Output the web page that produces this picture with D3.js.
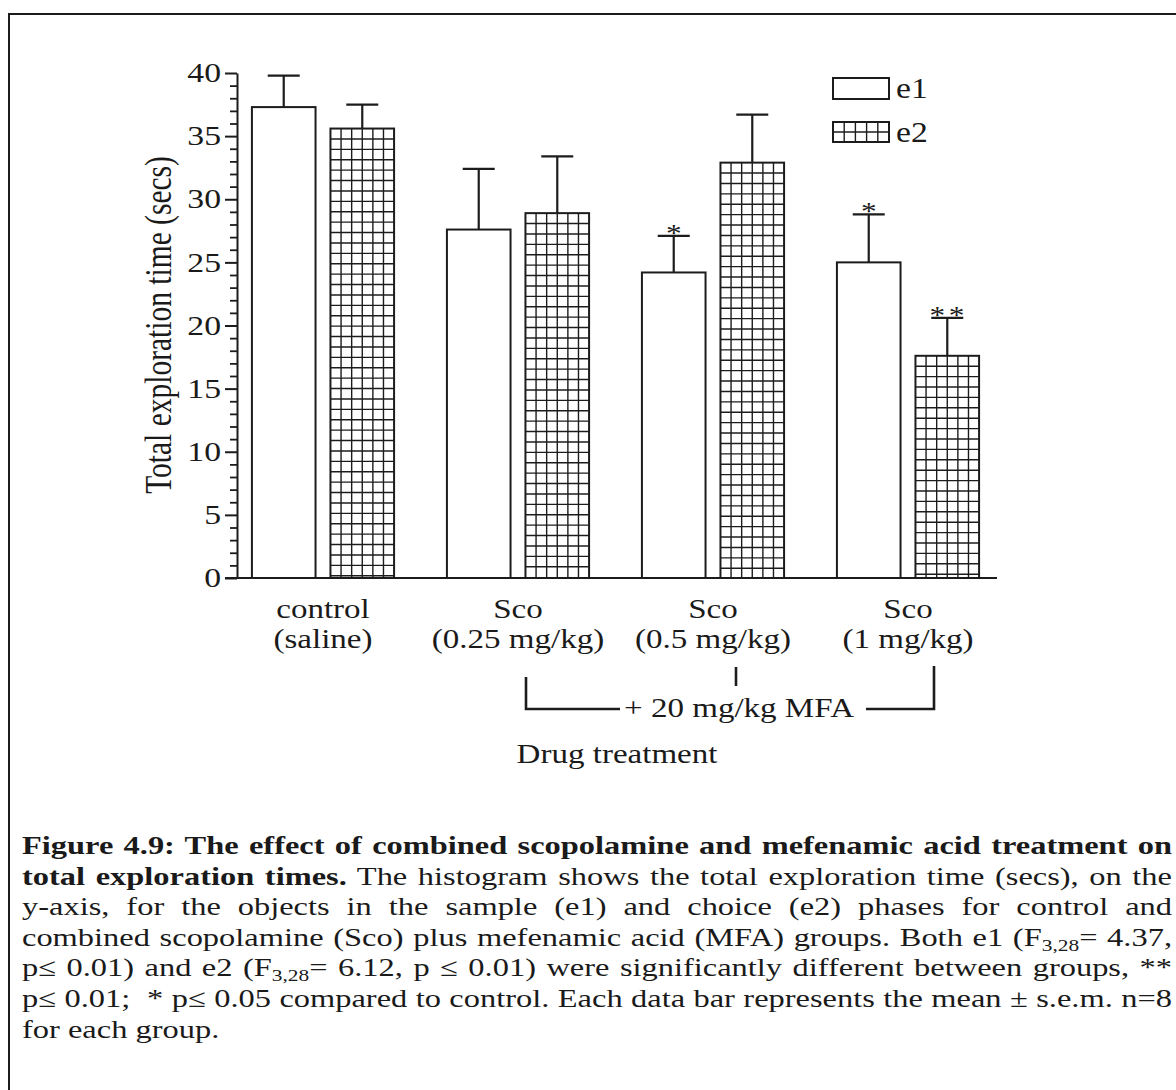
<!DOCTYPE html>
<html>
<head>
<meta charset="utf-8">
<script src="https://cdn.jsdelivr.net/npm/d3@7"></script>
<style>
  html, body { margin: 0; padding: 0; background: #fff; }
  svg { display: block; }
  text { font-family: "Liberation Serif", "Times New Roman", serif; fill: #1a1a1a; }
</style>
</head>
<body>
<svg id="fig" width="1176" height="1090"></svg>
<script>
// ---- data ----
const groupLine1 = ["control", "Sco", "Sco", "Sco"];
const groupLine2 = ["(saline)", "(0.25 mg/kg)", "(0.5 mg/kg)", "(1 mg/kg)"];
const phases = ["e1", "e2"];
const e1Mean = [37.3, 27.6, 24.2, 25.0];
const e1Sem  = [2.5, 4.8, 2.9, 3.8];
const e2Mean = [35.6, 28.9, 32.9, 17.6];
const e2Sem  = [1.9, 4.5, 3.8, 3.0];
const e1Sig  = ["", "", "*", "*"];
const e2Sig  = ["", "", "", "**"];
const yTicks = [0, 5, 10, 15, 20, 25, 30, 35, 40];
const yMinorTicks = d3.range(0, 41).filter(d => d % 5 !== 0);
const yTitle = "Total exploration time (secs)";
const xTitle = "Drug treatment";
const bracketLabel = "+ 20 mg/kg MFA";

// ---- styling / layout ----
const SX = 1.25;          // lettering is set slightly wide
const SXL = 1.18;         // category / legend lettering
const ink = "#1c1c1c";
const svg = d3.select("#fig");

const y = d3.scaleLinear().domain([0, 40]).range([578, 73]);
const x0 = d3.scaleBand().domain(d3.range(groupLine1.length))
  .range([225.4, 1005.6]).paddingInner(0.271).paddingOuter(0.136);
const x1 = d3.scaleBand().domain(phases).range([0, x0.bandwidth()]).paddingInner(0.19);
const axisX = 237, axisEnd = 997;

function wideText(parent, x, yy, str, size, anchor, sx) {
  return parent.append("text")
    .attr("transform", `translate(${x},${yy}) scale(${sx || SX},1)`)
    .attr("text-anchor", anchor || "start")
    .style("font-size", size + "px")
    .text(str);
}

// frame
svg.append("path").attr("d", "M9,1090V14H1176")
  .attr("fill", "none").attr("stroke", ink).attr("stroke-width", 2);

// ---- bars ----
const rows = [];
groupLine1.forEach((g, i) => {
  rows.push({ i, p: "e1", mean: e1Mean[i], sem: e1Sem[i], sig: e1Sig[i] });
  rows.push({ i, p: "e2", mean: e2Mean[i], sem: e2Sem[i], sig: e2Sig[i] });
});

const plot = svg.append("g");
const bw = x1.bandwidth();

const barG = plot.selectAll("g.bar").data(rows).join("g").attr("class", "bar");
barG.each(function (d) {
  const g = d3.select(this);
  const bx = x0(d.i) + x1(d.p);
  const top = y(d.mean), base = y(0);
  const cx = bx + bw / 2;
  // error bar (drawn first so the bar outline sits on it)
  const et = y(d.mean + d.sem);
  g.append("line").attr("x1", cx).attr("x2", cx).attr("y1", top).attr("y2", et)
    .attr("stroke", ink).attr("stroke-width", 2.2);
  g.append("line").attr("x1", cx - 16).attr("x2", cx + 16).attr("y1", et).attr("y2", et)
    .attr("stroke", ink).attr("stroke-width", 2.2);
  g.append("rect").attr("x", bx).attr("y", top).attr("width", bw).attr("height", base - top)
    .attr("fill", "#fff");
  if (d.p === "e2") {
    const hatch = g.append("g").attr("stroke", ink).attr("stroke-width", 1.4);
    for (let k = 1; k < 6; k++) {
      const lx = bx + k * bw / 6;
      hatch.append("line").attr("x1", lx).attr("x2", lx).attr("y1", top).attr("y2", base);
    }
    for (let ly = top + 10.4; ly < base - 2; ly += 10.4) {
      hatch.append("line").attr("x1", bx).attr("x2", bx + bw).attr("y1", ly).attr("y2", ly);
    }
  }
  g.append("rect").attr("x", bx).attr("y", top).attr("width", bw).attr("height", base - top)
    .attr("fill", "none").attr("stroke", ink).attr("stroke-width", 2);
  if (d.sig) {
    wideText(g, cx + (d.sig.length - 1) * 1.5, et + 6, d.sig, 25, "middle")
      .style("letter-spacing", (d.sig.length > 1 ? 3 : 0) + "px");
  }
});

// ---- axes ----
const yAxis = d3.axisLeft(y).tickValues(yTicks).tickSize(12).tickSizeOuter(0)
  .tickPadding(5).tickFormat(d3.format("d"));
const yg = svg.append("g").attr("transform", `translate(${axisX},0)`).call(yAxis);
yg.select(".domain").attr("stroke", ink).attr("stroke-width", 2);
yg.selectAll(".tick line").attr("stroke", ink).attr("stroke-width", 2);
yg.selectAll(".tick text")
  .attr("fill", ink)
  .style("font-family", "'Liberation Serif', serif")
  .style("font-size", "27px")
  .attr("x", -16 / SX)
  .attr("transform", `scale(${SX},1)`);

const yMinor = d3.axisLeft(y).tickValues(yMinorTicks).tickSize(7).tickSizeOuter(0).tickFormat("");
const ymg = svg.append("g").attr("transform", `translate(${axisX},0)`).call(yMinor);
ymg.select(".domain").remove();
ymg.selectAll(".tick line").attr("stroke", ink).attr("stroke-width", 1.8);

svg.append("line").attr("x1", axisX - 12).attr("x2", axisEnd).attr("y1", y(0)).attr("y2", y(0))
  .attr("stroke", ink).attr("stroke-width", 2);

// y title
svg.append("text")
  .attr("transform", `translate(171,325) scale(${SX},1) rotate(-90)`)
  .attr("text-anchor", "middle")
  .style("font-size", "29.5px")
  .text(yTitle);

// group labels
groupLine1.forEach((g, i) => {
  const cx = x0(i) + x0.bandwidth() / 2;
  wideText(svg, cx, 618, g, 28, "middle", SXL);
  wideText(svg, cx, 648, groupLine2[i], 28, "middle", SXL);
});

// bracket for the MFA-combined groups
const bLeft = x0(1) + x0.bandwidth() / 2 + 8;
const bMid = x0(2) + x0.bandwidth() / 2 + 23;
const bRight = x0(3) + x0.bandwidth() / 2 + 26;
const bY = 709;
const br = svg.append("g").attr("stroke", ink).attr("stroke-width", 2.6).attr("fill", "none");
br.append("path").attr("d", `M${bLeft},677V${bY}H620`);
br.append("path").attr("d", `M866,${bY}H${bRight}V666`);
br.append("path").attr("d", `M${bMid},667V686`);
wideText(svg, 739, 717, bracketLabel, 28, "middle", SXL);

wideText(svg, 617, 763, xTitle, 28, "middle", SXL);

// legend
const lg = svg.append("g");
lg.append("rect").attr("x", 833).attr("y", 78).attr("width", 56).attr("height", 21)
  .attr("fill", "#fff").attr("stroke", ink).attr("stroke-width", 2);
wideText(lg, 896, 98, "e1", 28.5, "start", SXL);
const lg2 = lg.append("g");
lg2.append("rect").attr("x", 833).attr("y", 122).attr("width", 56).attr("height", 20)
  .attr("fill", "#fff");
for (let k = 1; k < 5; k++) {
  lg2.append("line").attr("x1", 833 + k * 56 / 5).attr("x2", 833 + k * 56 / 5)
    .attr("y1", 122).attr("y2", 142).attr("stroke", ink).attr("stroke-width", 1.4);
}
lg2.append("line").attr("x1", 833).attr("x2", 889).attr("y1", 132).attr("y2", 132)
  .attr("stroke", ink).attr("stroke-width", 1.4);
lg2.append("rect").attr("x", 833).attr("y", 122).attr("width", 56).attr("height", 20)
  .attr("fill", "none").attr("stroke", ink).attr("stroke-width", 2);
wideText(lg, 896, 142, "e2", 28.5, "start", SXL);

// ---- caption ----
const capLines = [
  [{ t: "Figure 4.9: The effect of combined scopolamine and mefenamic acid treatment on", b: true }],
  [{ t: "total exploration times.", b: true }, { t: " The histogram shows the total exploration time (secs), on the" }],
  [{ t: "y-axis, for the objects in the sample (e1) and choice (e2) phases for control and" }],
  [{ t: "combined scopolamine (Sco) plus mefenamic acid (MFA) groups. Both e1 (F" }, { t: "3,28", sub: true }, { t: "= 4.37," }],
  [{ t: "p\u2264 0.01) and e2 (F" }, { t: "3,28", sub: true }, { t: "= 6.12, p \u2264 0.01) were significantly different between groups, **" }],
  [{ t: "p\u2264 0.01;  * p\u2264 0.05 compared to control. Each data bar represents the mean \u00b1 s.e.m. n=8" }],
  [{ t: "for each group." }]
];
const capLeft = 22, capRight = 1172, capTop = 854, capStep = 30.6;
let capSize = 27;
// pick the largest size at which every justified line still fits
function capWidth(parts, size) {
  const t = svg.append("text").style("font-size", size + "px").style("white-space", "pre");
  parts.forEach(p => {
    const ts = t.append("tspan").text(p.t);
    if (p.b) ts.style("font-weight", "bold");
    if (p.sub) ts.style("font-size", (size * 0.66) + "px");
  });
  const w = t.node().getComputedTextLength();
  t.remove();
  return w;
}
const target = (capRight - capLeft) / SX;
const widest = d3.max(capLines.slice(0, -1), parts => capWidth(parts, capSize));
if (widest > target - 4) capSize = capSize * (target - 4) / widest;

capLines.forEach((parts, li) => {
  const t = svg.append("text")
    .attr("transform", `translate(${capLeft},${capTop + li * capStep}) scale(${SX},1)`)
    .style("font-size", capSize + "px")
    .style("white-space", "pre");
  let shifted = false;
  parts.forEach(p => {
    const ts = t.append("tspan").text(p.t);
    if (p.b) ts.style("font-weight", "bold");
    if (p.sub) { ts.style("font-size", (capSize * 0.66) + "px").attr("dy", 5); shifted = true; }
    else if (shifted) { ts.attr("dy", -5); shifted = false; }
  });
  if (li < capLines.length - 1) {
    const natural = t.node().getComputedTextLength();
    const spaces = parts.map(p => p.t).join("").split(" ").length - 1;
    t.style("word-spacing", ((target - natural) / spaces) + "px");
  }
});
</script>
</body>
</html>
